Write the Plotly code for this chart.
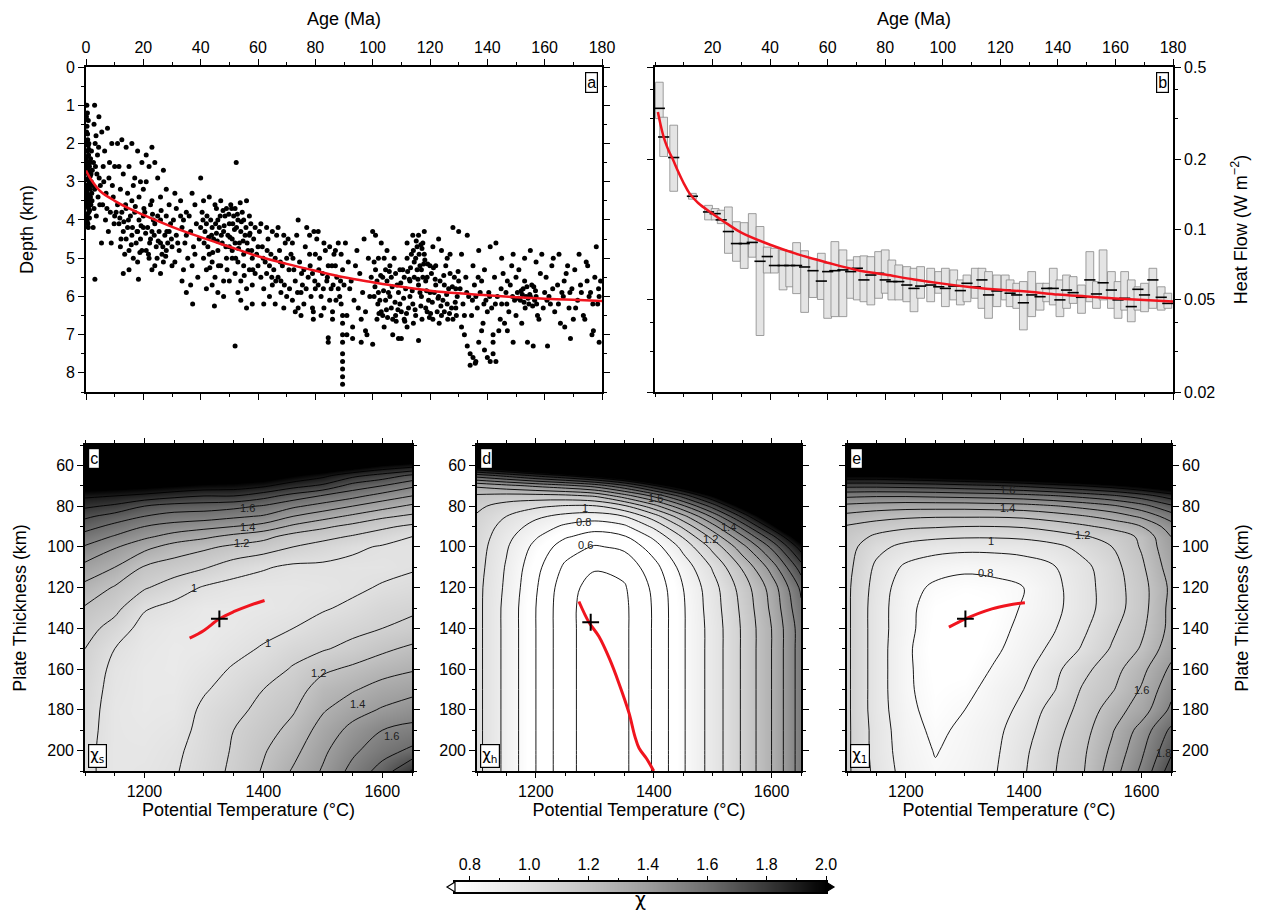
import math
import plotly.graph_objects as go

FONT = "Liberation Sans, Arial, Helvetica, sans-serif"
GREEK = "DejaVu Sans, Liberation Sans, sans-serif"
RED = "#f0141e"

# ---------------- panel a : depth vs age ----------------
seafloor_0_20 = [
    (0.3, 1.0), (0.5, 1.2), (0.8, 1.4), (0.2, 1.7), (0.6, 1.9), (1.0, 2.0), (0.4, 2.2), (0.9, 2.3),
    (0.2, 2.45), (0.7, 2.5), (1.2, 2.6), (0.3, 2.7), (0.8, 2.8), (1.5, 2.85), (0.5, 2.95), (1.1, 3.0),
    (0.2, 3.1), (0.7, 3.15), (1.4, 3.2), (0.4, 3.3), (1.0, 3.35), (0.6, 3.45), (1.3, 3.5), (0.3, 3.6),
    (0.9, 3.7), (0.5, 3.85), (1.2, 3.95), (0.4, 4.05), (0.8, 4.2), (1.6, 2.4), (1.8, 3.0), (2.0, 3.3),
    (1.7, 3.6), (2.2, 2.7), (0.1, 2.0), (0.1, 3.4), (1.9, 2.2), (2.4, 3.1),
    (0.15, 1.3), (0.35, 1.55), (0.55, 1.75), (0.75, 2.05), (0.95, 2.15), (0.25, 2.35), (0.45, 2.55),
    (0.65, 2.65), (0.85, 2.9), (1.05, 3.05), (0.15, 3.25), (0.35, 3.4), (0.55, 3.55), (0.75, 3.65),
    (0.95, 3.8), (1.15, 2.75), (1.35, 3.1), (1.55, 3.4), (1.25, 3.75), (0.65, 4.1), (0.25, 3.95),
    (1.45, 2.5), (1.75, 2.8), (2.1, 3.5), (0.05, 2.6),
    (3.0, 1.0), (2.8, 1.5), (3.5, 1.8), (4.5, 1.3), (3.2, 2.0), (4.0, 2.3), (2.6, 2.5), (3.8, 2.8),
    (4.6, 2.9), (3.0, 3.2), (4.2, 3.4), (2.8, 3.7), (3.6, 3.9), (4.8, 3.6), (5.0, 3.1), (2.5, 4.2),
    (3.3, 2.6), (4.4, 2.1), (3.1, 5.55),
    (5.5, 1.7), (6.5, 2.2), (7.5, 1.6), (9.0, 2.0), (6.0, 2.6), (8.0, 2.9), (7.0, 3.3), (9.5, 3.4),
    (5.8, 3.6), (8.5, 3.8), (6.8, 4.0), (9.8, 4.1), (7.8, 4.3), (5.4, 4.6), (9.2, 3.1), (8.2, 2.5),
    (6.2, 3.0), (7.3, 3.7), (10.0, 2.6), (10.0, 3.9), (8.8, 4.6),
    (11, 2.0), (12.5, 1.9), (14, 2.1), (16, 2.0), (18, 2.2), (19.5, 2.5), (11.5, 2.6), (13, 2.8),
    (15, 2.6), (17, 2.9), (19, 3.0), (12, 3.2), (14.5, 3.3), (16.5, 3.1), (18.5, 3.4), (20, 3.2),
    (11, 3.6), (12.5, 3.8), (14, 3.7), (15.5, 3.9), (17, 3.8), (18.5, 4.0), (20, 3.9), (11.5, 4.1),
    (13, 4.3), (14.5, 4.2), (16, 4.4), (17.5, 4.6), (19, 4.5), (12, 4.7), (13.5, 4.9), (15, 4.8),
    (16.5, 5.0), (18, 5.1), (19.5, 4.8), (14, 4.5), (16, 3.5), (18, 4.3), (20, 4.2), (15, 5.3),
    (18.3, 5.55), (13, 5.4),
    (10.5, 3.8), (11.8, 3.95), (13.2, 4.05), (14.8, 4.0), (16.2, 4.2), (17.8, 4.3), (19.2, 4.15),
    (12.2, 4.5), (15.8, 4.65), (18.8, 4.85), (13.8, 3.6), (17.2, 3.65),
]
seafloor_20_60 = [
    (21, 2.3), (23, 2.1), (22, 2.6), (24, 2.5), (25, 2.9), (27, 2.7), (28, 3.2), (21, 3.0), (26, 3.4),
    (29, 3.6), (23, 3.5), (20.5, 3.8), (21.5, 4.2), (22.5, 4.5), (23.5, 4.0), (24.5, 4.7), (25.5, 4.3),
    (26.5, 4.9), (27.5, 4.4), (28.5, 4.6), (29.5, 4.1), (21, 4.8), (22, 5.0), (23, 4.3), (24, 5.2),
    (25, 3.9), (26, 4.6), (27, 5.1), (28, 4.8), (29, 4.3), (30, 4.7), (22.5, 3.6), (24, 4.1), (26, 4.0),
    (28, 3.9), (30, 5.2), (23, 5.3), (26, 5.4),
    (20.8, 4.35), (22.2, 4.6), (23.8, 4.4), (25.2, 4.55), (26.8, 4.7), (28.2, 4.3), (29.8, 4.5),
    (21.8, 4.9), (24.8, 5.0), (27.8, 4.95), (20.2, 3.7), (23.2, 3.85), (26.2, 3.75),
    (31, 3.3), (33, 3.5), (35, 3.8), (37, 3.3), (40, 2.9), (30.5, 4.0), (31.5, 4.4), (32.5, 4.8),
    (33.5, 4.2), (34.5, 4.6), (35.5, 5.0), (36.5, 4.3), (37.5, 4.7), (38.5, 4.1), (39.5, 4.5), (31, 5.1),
    (32, 4.6), (33, 3.9), (34, 5.3), (35, 4.4), (36, 3.9), (37, 5.2), (38, 4.9), (39, 5.5), (40, 4.2),
    (31.5, 3.7), (33.5, 5.6), (36.5, 5.7), (38, 3.6), (34, 4.0), (35, 5.9), (37.2, 6.2), (44.8, 6.25),
    (40.5, 3.8), (41.5, 4.3), (42.5, 4.7), (43.5, 4.0), (44.5, 4.5), (45.5, 3.7), (46.5, 4.2), (47.5, 4.6),
    (48.5, 3.9), (49.5, 4.4), (41, 5.0), (42, 5.3), (43, 4.9), (44, 5.1), (45, 5.5), (46, 4.8), (47, 5.2),
    (48, 5.6), (49, 5.0), (50, 4.7), (41, 3.5), (43, 3.4), (45, 3.6), (47, 3.5), (49, 3.7), (42, 5.8),
    (44, 5.7), (46, 5.9), (48, 6.0), (50, 5.6), (46, 4.0), (48, 4.3), (44, 4.2), (42, 4.1), (50, 4.1),
    (50.5, 3.6), (51.5, 3.9), (52.5, 4.2), (53.5, 4.6), (54.5, 3.8), (55.5, 4.4), (56.5, 4.8), (57.5, 4.1),
    (58.5, 4.5), (59.5, 4.9), (51, 5.0), (52, 5.4), (53, 5.1), (54, 5.6), (55, 5.2), (56, 5.8), (57, 5.3),
    (58, 5.7), (59, 5.4), (60, 5.2), (51, 4.5), (53, 4.0), (55, 4.9), (57, 4.4), (59, 4.2), (52, 3.7),
    (56, 3.5), (54, 6.1), (58, 6.2), (56, 6.3), (53, 5.9), (55, 4.0), (57, 3.9), (60, 4.7), (52.4, 2.5),
    (52, 7.3), (51, 4.8), (54, 4.3), (58, 5.0),
    (40.8, 4.0), (42.2, 3.9), (43.8, 4.4), (45.2, 4.1), (46.8, 3.9), (48.2, 4.15), (49.8, 3.85),
    (51.2, 4.1), (52.8, 3.85), (54.2, 4.05), (55.8, 4.2), (57.2, 4.35), (41.2, 4.6), (42.8, 4.45),
    (44.2, 4.85), (45.8, 4.55), (47.2, 4.4), (48.8, 4.7), (50.2, 4.45), (51.8, 4.25), (53.2, 4.75),
    (54.8, 4.55), (56.2, 4.6), (57.8, 4.8), (43.2, 5.25), (46.2, 5.2), (49.2, 5.3), (52.2, 5.0),
    (55.2, 5.45), (58.2, 5.3), (47.8, 3.75), (50.8, 3.7), (53.8, 3.55), (45.5, 4.35), (52.0, 4.6),
]
seafloor_60_100 = [
    (60.5, 4.3), (61.5, 4.7), (62.5, 5.1), (63.5, 4.5), (64.5, 4.9), (65.5, 5.3), (66.5, 4.4), (67.5, 4.8),
    (68.5, 5.2), (69.5, 4.6), (61, 5.5), (62, 5.8), (63, 5.4), (64, 6.0), (65, 5.7), (66, 6.2), (67, 5.5),
    (68, 5.9), (69, 6.3), (70, 5.0), (61, 4.1), (63, 4.2), (65, 4.3), (67, 4.2), (69, 4.4), (62, 6.2),
    (64, 5.2), (66, 5.0), (68, 5.6), (70, 6.0),
    (70.5, 4.5), (71.5, 4.9), (72.5, 5.3), (73.5, 4.4), (74.5, 5.1), (75.5, 5.7), (76.5, 4.7), (77.5, 5.5),
    (78.5, 6.0), (79.5, 4.3), (71, 5.8), (72, 6.1), (73, 5.6), (74, 6.3), (75, 5.9), (76, 6.2), (77, 4.2),
    (78, 4.9), (79, 5.4), (80, 5.8), (72, 4.6), (74, 4.0), (76, 5.3), (78, 4.4), (80, 4.9), (73, 6.4),
    (75, 6.5), (79, 6.3),
    (80.5, 4.5), (81.5, 5.0), (82.5, 5.4), (83.5, 4.8), (84.5, 5.2), (85.5, 5.8), (86.5, 4.9), (87.5, 5.5),
    (88.5, 6.0), (89.5, 5.3), (81, 5.7), (82, 6.0), (83, 6.3), (84, 5.6), (85, 6.1), (86, 6.4), (87, 5.2),
    (88, 5.8), (89, 6.2), (90, 5.7), (81, 4.3), (83, 4.6), (85, 4.7), (87, 4.8), (89, 4.9), (82, 6.5),
    (86, 6.6), (88, 4.6), (84.5, 7.08), (84.5, 7.2), (79.3, 6.4), (79.3, 6.6),
    (61.8, 5.0), (63.2, 4.8), (64.8, 5.5), (66.2, 5.6), (67.8, 5.1), (69.2, 5.7), (70.8, 5.3), (72.2, 5.0),
    (73.8, 5.9), (75.2, 5.4), (76.8, 5.8), (78.2, 5.2), (79.8, 5.6), (81.2, 5.3), (82.8, 5.8), (84.2, 5.5),
    (85.8, 5.2), (87.2, 6.1), (88.8, 5.6), (86.2, 5.7),
    (89.5, 6.5), (89.5, 6.7), (89.5, 7.0), (89.5, 7.2), (89.5, 7.5), (89.5, 7.7), (89.5, 7.9), (89.5, 8.1),
    (89.5, 8.3),
    (90.5, 4.6), (91.5, 5.1), (92.5, 5.6), (93.5, 6.1), (94.5, 4.8), (95.5, 5.4), (96.5, 5.9), (97.5, 6.4),
    (98.5, 5.0), (99.5, 5.5), (91, 6.5), (93, 6.8), (95, 6.3), (97, 4.5), (99, 6.0), (92, 5.8), (94, 5.2),
    (96, 6.6), (98, 7.0), (100, 4.3), (91, 7.0), (93, 7.1), (96, 7.2), (100, 7.25), (97.5, 6.9),
]
seafloor_100_140 = [
    (100.5, 5.1), (101.5, 5.6), (102.5, 6.1), (103.5, 6.5), (104.5, 5.3), (105.5, 5.9), (106.5, 6.3),
    (107.5, 5.0), (108.5, 5.7), (109.5, 6.2), (101, 5.3), (102, 5.9), (103, 6.4), (104, 5.0), (105, 5.6),
    (106, 6.0), (107, 6.6), (108, 5.4), (109, 5.9), (110, 6.4), (101, 4.4), (103, 4.6), (105, 4.8),
    (107, 7.0), (109, 7.1), (104, 6.8), (106, 5.2), (108, 6.5), (102, 5.0), (100.5, 6.0), (103.5, 5.5),
    (106.5, 5.5), (109.5, 5.3), (101.5, 6.6), (104.5, 6.1),
    (110.5, 5.3), (111.5, 5.8), (112.5, 6.3), (113.5, 4.9), (114.5, 5.5), (115.5, 4.7), (116.5, 5.2),
    (117.5, 4.6), (118.5, 5.6), (119.5, 6.1), (111, 6.6), (112, 5.0), (113, 5.6), (114, 6.2), (115, 5.0),
    (116, 5.7), (117, 5.3), (118, 4.9), (119, 5.5), (120, 5.9), (111, 5.5), (113, 6.0), (115, 6.5),
    (117, 6.0), (119, 6.4), (112, 4.6), (114, 4.4), (116, 4.4), (118, 4.3), (120, 5.2), (115.5, 5.3),
    (116.5, 5.9), (117.5, 5.5), (114.5, 5.1), (118.5, 6.3), (110, 7.1), (116, 7.15), (112, 6.8),
    (120.5, 5.4), (121.5, 5.9), (122.5, 6.4), (123.5, 5.6), (124.5, 6.1), (125.5, 5.2), (126.5, 5.8),
    (127.5, 6.3), (128.5, 5.5), (129.5, 6.0), (121, 6.6), (122, 5.2), (123, 6.0), (124, 6.5), (125, 5.7),
    (126, 6.2), (127, 5.4), (128, 6.6), (129, 5.8), (130, 5.6), (121, 4.7), (124, 4.8), (127, 4.9),
    (128, 4.2), (130, 4.3), (122, 5.7), (125, 6.4), (129, 6.3), (123, 4.5), (126, 5.0),
    (100.8, 5.75), (101.8, 6.2), (102.8, 5.45), (103.8, 5.85), (104.8, 6.35), (105.8, 5.35), (106.8, 5.75),
    (107.8, 6.15), (108.8, 6.35), (109.8, 5.65), (110.8, 6.05), (111.8, 6.45), (112.8, 5.55), (113.8, 5.85),
    (114.8, 6.35), (115.8, 5.55), (116.8, 6.25), (117.8, 5.15), (118.8, 5.85), (119.8, 6.55), (120.8, 6.15),
    (121.8, 5.55), (122.8, 6.05), (123.8, 6.25), (124.8, 5.45), (125.8, 5.95), (126.8, 6.45), (127.8, 5.75),
    (128.8, 6.15), (129.8, 5.35), (114.2, 4.8), (115.2, 4.55), (116.2, 4.9), (117.2, 4.75), (118.2, 5.05),
    (116.8, 4.65), (119.2, 5.15), (113.2, 5.25), (112.2, 5.35), (121.2, 5.25), (102.2, 6.45), (105.2, 6.55),
    (108.2, 6.65), (111.2, 6.65), (114.2, 6.7), (117.2, 6.6), (120.2, 6.45), (123.2, 6.7), (126.2, 6.6),
    (129.2, 6.5),
    (130.5, 5.8), (131.5, 6.2), (132.5, 5.5), (133.5, 6.0), (134.5, 6.5), (135.5, 5.7), (136.5, 6.3),
    (137.5, 5.9), (138.5, 6.7), (139.5, 6.1), (131, 6.8), (132, 7.0), (133, 7.3), (134, 7.5), (135, 7.6),
    (136, 7.7), (137, 7.2), (138, 6.9), (139, 7.4), (140, 7.6), (131, 4.9), (133, 4.4), (135, 5.2),
    (137, 4.8), (139, 5.3), (134, 7.8), (136, 6.0), (138, 5.6), (140, 6.4), (132, 6.5),
    (132.8, 5.9), (134.8, 6.1), (136.8, 5.5), (138.8, 6.2), (135.8, 7.75),
]
seafloor_140_180 = [
    (141, 7.7), (142, 7.5), (143, 7.7), (142, 7.2),
    (140.5, 5.9), (141.5, 6.3), (142.5, 5.5), (143.5, 6.0), (144.5, 6.6), (145.5, 5.4), (146.5, 5.9),
    (147.5, 6.4), (148.5, 5.2), (149.5, 6.1), (141, 4.7), (143, 4.6), (145, 5.0), (147, 6.9), (149, 7.2),
    (142, 7.0), (144, 6.9), (146, 6.7), (148, 5.7), (150, 5.5), (145, 6.2), (147, 5.6), (149, 4.9),
    (150, 6.5), (140.8, 6.0), (142.8, 6.2), (144.8, 5.8), (146.8, 6.2), (148.8, 6.0),
    (150.5, 5.9), (151.5, 6.1), (152.5, 5.8), (153.5, 6.0), (154.5, 6.2), (155.5, 5.7), (156.5, 6.1),
    (157.5, 6.5), (158.5, 5.4), (159.5, 6.3), (151, 5.3), (153, 5.0), (155, 4.8), (157, 5.1), (159, 4.9),
    (152, 6.7), (154, 7.2), (156, 7.3), (158, 6.6), (160, 5.9), (153, 5.6), (155, 6.0), (157, 6.0),
    (150.8, 6.05), (151.8, 5.85), (152.8, 6.15), (153.8, 5.75), (154.8, 5.95), (155.8, 6.25), (156.8, 5.85),
    (152.2, 5.95), (154.2, 6.05), (156.2, 5.75), (153.2, 6.3), (157.2, 6.2),
    (160.5, 5.5), (161.5, 6.0), (162.5, 5.2), (163.5, 6.4), (164.5, 5.7), (165.5, 6.7), (166.5, 6.0),
    (167.5, 5.4), (168.5, 6.3), (169.5, 5.8), (161, 7.3), (163, 5.0), (165, 4.9), (167, 6.8), (169, 7.1),
    (162, 6.2), (166, 5.9), (168, 5.2), (170, 6.6), (160.8, 6.1), (162.8, 5.8), (164.8, 6.2), (166.8, 5.6),
    (168.8, 5.9),
    (170.5, 5.3), (171.5, 6.1), (172.5, 5.7), (173.5, 6.5), (174.5, 5.1), (175.5, 6.0), (176.5, 7.0),
    (177.5, 5.5), (178.5, 6.2), (179.5, 5.6), (172, 4.9), (174, 6.6), (176, 5.9), (178, 4.7), (179, 6.0),
    (179, 7.2), (177, 6.9), (175, 5.2), (170.8, 6.3), (172.8, 5.9), (174.8, 5.6), (176.8, 6.2), (178.8, 5.8),
]
depth_model_age = [0, 1, 2, 5, 10, 15, 20, 30, 40, 50, 60, 70, 80, 90, 100, 110, 120, 130, 140, 150, 160, 170, 180]
depth_model_km = [2.71, 2.85, 2.97, 3.25, 3.5, 3.7, 3.87, 4.18, 4.45, 4.7, 4.95, 5.15, 5.33, 5.5, 5.63, 5.75,
                  5.85, 5.92, 5.97, 6.02, 6.06, 6.09, 6.12]

# ---------------- panel b : heat flow ----------------
box_age = [1.5, 3.0, 6.5, 13.0, 18.6, 20.9, 23.0, 25.5, 28.3, 31.0, 33.8, 36.5, 39.0, 41.5, 44.5, 46.8, 49.2,
           52.0, 54.9, 57.8, 60.0, 62.5, 65.3, 68.0, 70.3, 72.6, 75.0, 77.7, 80.0, 82.3, 84.7, 87.5, 90.0, 92.3,
           95.8, 98.6, 100.9, 103.8, 106.1, 108.4, 111.3, 113.6, 115.9, 118.8, 121.7, 123.4, 125.7, 128.0,
           130.9, 133.8, 136.1, 138.4, 140.7, 143.0, 145.3, 148.2, 151.1, 153.4, 155.7, 158.6, 160.9, 163.2,
           165.5, 167.8, 170.1, 173.0, 175.9, 178.2]
box_q3 = [0.43, 0.304, 0.281, 0.143, 0.127, 0.123, 0.121, 0.125, 0.108, 0.107, 0.117, 0.103, 0.084, 0.083,
          0.0817, 0.081, 0.0878, 0.081, 0.075, 0.079, 0.0715, 0.0887, 0.0817, 0.0739, 0.0764, 0.077, 0.0764,
          0.0803, 0.0817, 0.0739, 0.0704, 0.0692, 0.0681, 0.0692, 0.0681, 0.0659, 0.0681, 0.067, 0.0607, 0.0637,
          0.0681, 0.0681, 0.0659, 0.0637, 0.0637, 0.0607, 0.0587, 0.0597, 0.0659, 0.0587, 0.0587, 0.0681,
          0.0607, 0.0637, 0.0627, 0.0577, 0.0803, 0.0597, 0.0817, 0.0659, 0.0597, 0.0659, 0.0607, 0.0567,
          0.0587, 0.0681, 0.0567, 0.0532]
box_q1 = [0.30, 0.206, 0.146, 0.135, 0.110, 0.110, 0.106, 0.079, 0.073, 0.068, 0.076, 0.035, 0.065, 0.065,
          0.055, 0.0567, 0.053, 0.044, 0.051, 0.050, 0.0415, 0.0422, 0.0422, 0.0506, 0.0498, 0.0489, 0.0474,
          0.0506, 0.0532, 0.0498, 0.0498, 0.0489, 0.0443, 0.0506, 0.0489, 0.0532, 0.0466, 0.0498, 0.0474,
          0.0489, 0.0506, 0.0458, 0.0415, 0.0466, 0.0498, 0.0466, 0.0458, 0.037, 0.0422, 0.045, 0.0489, 0.0474,
          0.0422, 0.0458, 0.0481, 0.0436, 0.0489, 0.0458, 0.0498, 0.0458, 0.0415, 0.045, 0.0401, 0.045, 0.0443,
          0.0458, 0.045, 0.0458]
box_median = [0.332, 0.25, 0.204, 0.139, 0.119, 0.117, 0.110, 0.098, 0.087, 0.087, 0.088, 0.073, 0.0765, 0.070,
              0.070, 0.070, 0.070, 0.069, 0.0665, 0.060, 0.0659, 0.0665, 0.067, 0.0659, 0.0681, 0.0607, 0.0637,
              0.0648, 0.0607, 0.0597, 0.0597, 0.0577, 0.0558, 0.0571, 0.0577, 0.0567, 0.0558, 0.0571, 0.0546,
              0.0587, 0.0567, 0.0607, 0.0523, 0.0544, 0.0549, 0.0532, 0.0523, 0.0484, 0.0523, 0.0514, 0.0558,
              0.0558, 0.0498, 0.0549, 0.0535, 0.0511, 0.0607, 0.0528, 0.059, 0.0549, 0.0498, 0.0506, 0.0466,
              0.0553, 0.0523, 0.0607, 0.0511, 0.0481]
hf_model_age = [1, 2, 3, 4, 5, 6, 8, 10, 12, 15, 20, 25, 30, 40, 50, 60, 70, 80, 90, 100, 110, 120, 130, 140,
                150, 160, 170, 180]
hf_model = [0.32, 0.28, 0.25, 0.23, 0.215, 0.203, 0.178, 0.158, 0.143, 0.13, 0.117, 0.106, 0.097, 0.086, 0.078,
            0.072, 0.067, 0.064, 0.061, 0.0585, 0.0565, 0.055, 0.054, 0.0525, 0.0515, 0.0505, 0.0497, 0.049]

# ---------------- panels c, d, e : misfit grids ----------------
temp_grid = [1100, 1150, 1200, 1250, 1300, 1350, 1400, 1450, 1500, 1550, 1600, 1650]
thick_grid = [50, 55, 60, 65, 70, 75, 80, 85, 90, 95, 100, 110, 120, 130, 140, 150, 160, 170, 180, 190, 200, 210]

chi_s = [
    [3.0, 2.9, 2.9, 2.85, 2.8, 2.75, 2.7, 2.65, 2.6, 2.55, 2.5, 2.45],
    [2.8, 2.65, 2.6, 2.6, 2.55, 2.5, 2.45, 2.38, 2.36, 2.3, 2.25, 2.2],
    [2.55, 2.4, 2.35, 2.35, 2.3, 2.28, 2.25, 2.18, 2.14, 2.08, 2.0, 1.95],
    [2.3, 2.2, 2.15, 2.15, 2.12, 2.1, 2.08, 2.0, 1.93, 1.83, 1.76, 1.68],
    [2.07, 2.05, 2.03, 2.0, 1.97, 1.96, 1.92, 1.84, 1.78, 1.66, 1.6, 1.52],
    [1.92, 1.9, 1.87, 1.83, 1.8, 1.8, 1.74, 1.66, 1.59, 1.53, 1.46, 1.40],
    [1.82, 1.78, 1.70, 1.66, 1.65, 1.63, 1.59, 1.52, 1.46, 1.40, 1.34, 1.28],
    [1.72, 1.66, 1.60, 1.56, 1.55, 1.52, 1.49, 1.40, 1.34, 1.28, 1.22, 1.18],
    [1.64, 1.57, 1.50, 1.46, 1.43, 1.40, 1.36, 1.28, 1.22, 1.17, 1.12, 1.08],
    [1.56, 1.49, 1.42, 1.36, 1.32, 1.27, 1.23, 1.16, 1.13, 1.09, 1.05, 1.0],
    [1.49, 1.41, 1.33, 1.26, 1.22, 1.18, 1.15, 1.10, 1.06, 1.02, 0.99, 0.98],
    [1.37, 1.30, 1.19, 1.15, 1.11, 1.05, 1.01, 0.98, 0.98, 0.97, 0.97, 0.99],
    [1.27, 1.19, 1.11, 1.05, 0.99, 0.96, 0.95, 0.95, 0.96, 0.98, 1.01, 1.03],
    [1.19, 1.13, 1.01, 0.97, 0.93, 0.93, 0.94, 0.96, 0.99, 1.02, 1.06, 1.08],
    [1.14, 1.06, 0.96, 0.93, 0.92, 0.94, 0.97, 1.0, 1.04, 1.07, 1.1, 1.13],
    [1.10, 1.0, 0.94, 0.92, 0.93, 0.97, 1.01, 1.06, 1.09, 1.13, 1.18, 1.22],
    [1.08, 0.97, 0.93, 0.92, 0.96, 1.01, 1.05, 1.11, 1.18, 1.22, 1.26, 1.29],
    [1.06, 0.96, 0.93, 0.93, 0.99, 1.04, 1.10, 1.15, 1.25, 1.29, 1.34, 1.37],
    [1.05, 0.95, 0.93, 0.94, 1.02, 1.07, 1.13, 1.19, 1.29, 1.36, 1.41, 1.45],
    [1.04, 0.95, 0.94, 0.96, 1.03, 1.10, 1.16, 1.23, 1.34, 1.43, 1.5, 1.53],
    [1.03, 0.95, 0.95, 0.98, 1.04, 1.11, 1.19, 1.27, 1.38, 1.48, 1.56, 1.62],
    [1.03, 0.95, 0.96, 0.99, 1.05, 1.12, 1.21, 1.31, 1.41, 1.53, 1.64, 1.81],
]

chi_h = [
    [3.0, 3.1, 3.2, 3.3, 3.4, 3.5, 3.6, 3.75, 3.9, 4.0, 4.1, 4.2],
    [2.6, 2.7, 2.8, 2.9, 3.0, 3.1, 3.25, 3.4, 3.55, 3.7, 3.85, 3.95],
    [2.1, 2.2, 2.3, 2.4, 2.5, 2.6, 2.75, 2.95, 3.15, 3.35, 3.5, 3.65],
    [1.65, 1.73, 1.82, 1.90, 2.0, 2.12, 2.28, 2.48, 2.7, 2.95, 3.15, 3.35],
    [1.32, 1.37, 1.42, 1.47, 1.54, 1.68, 1.88, 2.08, 2.32, 2.6, 2.85, 3.1],
    [1.18, 1.16, 1.16, 1.17, 1.21, 1.35, 1.52, 1.74, 2.0, 2.3, 2.6, 2.9],
    [1.12, 1.06, 1.02, 0.99, 0.99, 1.08, 1.26, 1.48, 1.74, 2.05, 2.4, 2.7],
    [1.09, 1.00, 0.92, 0.87, 0.85, 0.90, 1.05, 1.27, 1.52, 1.82, 2.15, 2.5],
    [1.07, 0.96, 0.86, 0.78, 0.74, 0.78, 0.92, 1.12, 1.36, 1.63, 1.95, 2.3],
    [1.06, 0.93, 0.81, 0.71, 0.66, 0.69, 0.82, 1.01, 1.23, 1.48, 1.76, 2.1],
    [1.05, 0.91, 0.77, 0.65, 0.59, 0.62, 0.75, 0.93, 1.13, 1.36, 1.62, 1.95],
    [1.04, 0.89, 0.73, 0.58, 0.51, 0.53, 0.66, 0.84, 1.01, 1.21, 1.44, 1.75],
    [1.03, 0.88, 0.71, 0.54, 0.46, 0.49, 0.62, 0.80, 0.96, 1.14, 1.34, 1.62],
    [1.03, 0.87, 0.70, 0.53, 0.45, 0.48, 0.61, 0.79, 0.95, 1.12, 1.32, 1.58],
    [1.03, 0.87, 0.70, 0.53, 0.45, 0.48, 0.61, 0.79, 0.94, 1.11, 1.30, 1.55],
    [1.03, 0.87, 0.70, 0.53, 0.45, 0.48, 0.61, 0.79, 0.94, 1.11, 1.30, 1.55],
    [1.03, 0.87, 0.70, 0.53, 0.45, 0.48, 0.61, 0.79, 0.94, 1.11, 1.30, 1.55],
    [1.03, 0.87, 0.70, 0.53, 0.45, 0.48, 0.61, 0.79, 0.94, 1.11, 1.30, 1.55],
    [1.03, 0.87, 0.70, 0.53, 0.45, 0.48, 0.61, 0.79, 0.94, 1.11, 1.30, 1.55],
    [1.03, 0.87, 0.70, 0.53, 0.45, 0.48, 0.61, 0.79, 0.94, 1.11, 1.30, 1.55],
    [1.03, 0.87, 0.70, 0.53, 0.45, 0.48, 0.61, 0.79, 0.94, 1.11, 1.30, 1.55],
    [1.03, 0.87, 0.70, 0.53, 0.45, 0.48, 0.61, 0.79, 0.94, 1.11, 1.30, 1.55],
]

chi_1 = [
    [3.1, 3.15, 3.2, 3.25, 3.3, 3.35, 3.4, 3.45, 3.5, 3.55, 3.6, 3.65],
    [2.75, 2.78, 2.8, 2.83, 2.86, 2.9, 2.94, 2.98, 3.02, 3.06, 3.1, 3.15],
    [2.35, 2.37, 2.4, 2.43, 2.46, 2.5, 2.54, 2.58, 2.62, 2.67, 2.72, 2.78],
    [2.0, 2.0, 2.02, 2.05, 2.08, 2.1, 2.14, 2.18, 2.22, 2.27, 2.33, 2.4],
    [1.73, 1.73, 1.74, 1.75, 1.77, 1.79, 1.82, 1.86, 1.9, 1.95, 2.02, 2.1],
    [1.52, 1.51, 1.51, 1.52, 1.53, 1.54, 1.56, 1.59, 1.63, 1.68, 1.75, 1.85],
    [1.37, 1.35, 1.34, 1.34, 1.34, 1.35, 1.36, 1.39, 1.43, 1.48, 1.56, 1.68],
    [1.27, 1.24, 1.22, 1.21, 1.21, 1.21, 1.22, 1.25, 1.29, 1.34, 1.42, 1.55],
    [1.19, 1.15, 1.12, 1.11, 1.10, 1.10, 1.11, 1.14, 1.18, 1.23, 1.30, 1.45],
    [1.16, 1.08, 1.04, 1.02, 1.01, 1.01, 1.02, 1.05, 1.09, 1.13, 1.22, 1.40],
    [1.14, 1.03, 0.97, 0.94, 0.93, 0.93, 0.94, 0.97, 1.03, 1.10, 1.21, 1.38],
    [1.13, 0.98, 0.88, 0.84, 0.82, 0.83, 0.85, 0.89, 0.97, 1.06, 1.18, 1.35],
    [1.12, 0.96, 0.84, 0.78, 0.76, 0.77, 0.80, 0.87, 0.96, 1.05, 1.16, 1.32],
    [1.12, 0.95, 0.83, 0.75, 0.73, 0.75, 0.81, 0.87, 0.96, 1.05, 1.16, 1.33],
    [1.12, 0.95, 0.83, 0.74, 0.72, 0.76, 0.83, 0.89, 0.98, 1.08, 1.18, 1.33],
    [1.12, 0.95, 0.82, 0.73, 0.72, 0.78, 0.85, 0.92, 1.01, 1.11, 1.21, 1.36],
    [1.12, 0.95, 0.82, 0.74, 0.74, 0.81, 0.87, 0.97, 1.07, 1.16, 1.27, 1.42],
    [1.12, 0.95, 0.82, 0.75, 0.77, 0.84, 0.90, 0.99, 1.11, 1.19, 1.31, 1.47],
    [1.12, 0.95, 0.83, 0.76, 0.80, 0.85, 0.93, 1.04, 1.13, 1.25, 1.35, 1.52],
    [1.12, 0.96, 0.84, 0.78, 0.82, 0.87, 0.96, 1.06, 1.16, 1.29, 1.44, 1.62],
    [1.12, 0.96, 0.85, 0.795, 0.83, 0.88, 0.98, 1.08, 1.18, 1.32, 1.48, 1.68],
    [1.12, 0.97, 0.86, 0.81, 0.84, 0.89, 0.99, 1.09, 1.19, 1.35, 1.52, 1.75],
]

# best-fit trade-off curves and best-fit points (temperature, thickness)
tradeoff_s_T = [1276, 1300, 1326, 1351, 1376, 1402]
tradeoff_s_z = [144.8, 141.0, 135.3, 131.7, 128.8, 126.3]
tradeoff_h_T = [1273, 1290, 1307, 1325, 1341, 1358, 1368, 1375, 1388, 1400]
tradeoff_h_z = [126.8, 137.0, 144.0, 155.0, 167.0, 181.5, 193.0, 198.7, 204.0, 210.0]
tradeoff_1_T = [1273, 1301, 1346, 1375, 1402]
tradeoff_1_z = [139.4, 135.3, 130.4, 128.5, 127.4]
best_T = [1326, 1293, 1301]
best_z = [135.3, 137.0, 135.3]

contour_labels_c = [(1284, 120, "1"), (1407, 147, "1"), (1363, 98, "1.2"), (1374, 90, "1.4"),
                    (1374, 81, "1.6"), (1492, 162, "1.2"), (1559, 177, "1.4"), (1615, 193, "1.6")]
contour_labels_d = [(1283, 81, "1"), (1280, 88, "0.8"), (1285, 99, "0.6"), (1403, 76, "1.6"),
                    (1496, 96, "1.2"), (1527, 90, "1.4")]
contour_labels_e = [(1335, 113, "0.8"), (1345, 97, "1"), (1499, 94, "1.2"), (1372, 81, "1.4"),
                    (1372, 72, "1.6"), (1600, 170, "1.6"), (1637, 201, "1.8")]

cbar_vals = [0.75, 0.8, 1.0, 1.2, 1.4, 1.6, 1.8, 2.0]
cbar_ticks = [0.8, 1.0, 1.2, 1.4, 1.6, 1.8, 2.0]

# ---------------- layout helpers (page pixels -> paper fractions) ----------------
FIG_W, FIG_H, PAGE_OFF = 1260, 916, 8


def fx(px):
    return (px - PAGE_OFF) / FIG_W


def fy(py):
    return 1 - (py - PAGE_OFF) / FIG_H


GRAY = [[0.0, "#ffffff"], [0.2, "#e0e0e0"], [0.36, "#c2c2c2"], [0.52, "#9c9c9c"],
        [0.68, "#6e6e6e"], [0.84, "#383838"], [1.0, "#000000"]]

fig = go.Figure()

all_pts = seafloor_0_20 + seafloor_20_60 + seafloor_60_100 + seafloor_100_140 + seafloor_140_180
fig.add_trace(go.Scatter(x=[p[0] for p in all_pts], y=[p[1] for p in all_pts], mode="markers",
                         marker=dict(color="black", size=5, line=dict(width=0)),
                         xaxis="x", yaxis="y", hoverinfo="skip", showlegend=False))
fig.add_trace(go.Scatter(x=depth_model_age, y=depth_model_km, mode="lines",
                         line=dict(color=RED, width=2.5, shape="spline"), xaxis="x", yaxis="y", showlegend=False))

fig.add_trace(go.Bar(x=box_age, y=[t - b for t, b in zip(box_q3, box_q1)], base=box_q1, width=2.7,
                     marker=dict(color="#e4e4e4", line=dict(color="#888888", width=0.8)),
                     xaxis="x2", yaxis="y2", showlegend=False, hoverinfo="skip"))
fig.add_trace(go.Scatter(x=box_age, y=box_median, mode="markers",
                         marker=dict(symbol="line-ew", size=8, line=dict(color="black", width=1.6)),
                         xaxis="x2", yaxis="y2", showlegend=False, hoverinfo="skip"))
fig.add_trace(go.Scatter(x=hf_model_age, y=hf_model, mode="lines",
                         line=dict(color=RED, width=2.5, shape="spline"), xaxis="x2", yaxis="y2", showlegend=False))

panels = [(chi_s, "x3", "y3", tradeoff_s_T, tradeoff_s_z),
          (chi_h, "x4", "y4", tradeoff_h_T, tradeoff_h_z),
          (chi_1, "x5", "y5", tradeoff_1_T, tradeoff_1_z)]
for i, (chi, xa, ya, tT, tz) in enumerate(panels):
    fig.add_trace(go.Heatmap(x=temp_grid, y=thick_grid, z=chi, zmin=0.75, zmax=2.0, colorscale=GRAY,
                             zsmooth="best", showscale=False, xaxis=xa, yaxis=ya, hoverinfo="skip"))
    fig.add_trace(go.Contour(x=temp_grid, y=thick_grid, z=chi, showscale=False,
                             contours=dict(start=0.5, end=4.0, size=0.1, coloring="none"),
                             line=dict(color="black", width=0.9, smoothing=1.0),
                             xaxis=xa, yaxis=ya, hoverinfo="skip", showlegend=False))
    fig.add_trace(go.Scatter(x=tT, y=tz, mode="lines", line=dict(color=RED, width=3, shape="spline"),
                             xaxis=xa, yaxis=ya, showlegend=False, hoverinfo="skip"))
    fig.add_trace(go.Scatter(x=[best_T[i]], y=[best_z[i]], mode="markers",
                             marker=dict(symbol="cross-thin", size=12, line=dict(color="black", width=2)),
                             xaxis=xa, yaxis=ya, showlegend=False, hoverinfo="skip"))

fig.add_trace(go.Heatmap(x=cbar_vals, y=[0], z=[cbar_vals], zmin=0.75, zmax=2.0, colorscale=GRAY,
                         zsmooth="best", showscale=False, xaxis="x6", yaxis="y6", hoverinfo="skip"))


def ax(**kw):
    d = dict(showline=True, linecolor="black", linewidth=1.7, mirror="ticks", ticks="outside", ticklen=6,
             tickwidth=1.2, tickcolor="black", showgrid=False, zeroline=False, automargin=False,
             tickfont=dict(family=FONT, size=16, color="black"),
             title_font=dict(family=FONT, size=18, color="black"))
    d.update(kw)
    return d


minor_age = dict(dtick=10, ticks="outside", ticklen=3, tickcolor="black")
top_y = [fy(392), fy(67)]
bot_y = [fy(771), fy(445)]

fig.update_layout(
    width=FIG_W, height=FIG_H, margin=dict(l=0, r=0, t=0, b=0, autoexpand=False),
    paper_bgcolor="white", plot_bgcolor="white", barmode="overlay",
    font=dict(family=FONT, color="black"),
    xaxis=ax(domain=[fx(86), fx(602)], anchor="y", side="top", range=[0, 180],
             tickvals=[0, 20, 40, 60, 80, 100, 120, 140, 160, 180], minor=minor_age,
             title=dict(text="Age (Ma)", standoff=8)),
    yaxis=ax(domain=top_y, anchor="x", range=[8.5, 0], tickvals=[0, 1, 2, 3, 4, 5, 6, 7, 8],
             minor=dict(dtick=0.5, ticks="outside", ticklen=3, tickcolor="black"),
             title=dict(text="Depth (km)", standoff=28)),
    xaxis2=ax(domain=[fx(655), fx(1173)], anchor="y2", side="top", range=[0, 180],
              tickvals=[20, 40, 60, 80, 100, 120, 140, 160, 180], minor=minor_age,
              title=dict(text="Age (Ma)", standoff=8)),
    yaxis2=ax(domain=top_y, anchor="x2", side="right", type="log",
              range=[math.log10(0.02), math.log10(0.5)],
              tickvals=[0.02, 0.05, 0.1, 0.2, 0.5], ticktext=["0.02", "0.05", "0.1", "0.2", "0.5"],
              minor=dict(tickvals=[0.03, 0.04, 0.3, 0.4], ticks="outside", ticklen=3, tickcolor="black"),
              title=dict(text="Heat Flow (W m<sup>−2</sup>)", standoff=20)),
    xaxis6=dict(domain=[fx(455), fx(826)], anchor="y6", side="top", range=[0.75, 2.0],
                tickvals=cbar_ticks, ticktext=["%.1f" % v for v in cbar_ticks], ticks="outside", ticklen=4,
                tickcolor="black", minor=dict(dtick=0.1, ticks="outside", ticklen=2, tickcolor="black"),
                showline=True, linecolor="black", linewidth=1.5, mirror=True, showgrid=False, zeroline=False,
                automargin=False, tickfont=dict(family=FONT, size=16, color="black")),
    yaxis6=dict(domain=[fy(892), fy(882)], anchor="x6", range=[-0.5, 0.5], showticklabels=False,
                ticks="", showline=True, linecolor="black", linewidth=1.5, mirror=True, showgrid=False,
                zeroline=False, automargin=False),
)

bottom_x = {3: [fx(85), fx(412)], 4: [fx(477), fx(801)], 5: [fx(847), fx(1171)]}
for n in [3, 4, 5]:
    fig.layout["xaxis%d" % n] = ax(domain=bottom_x[n], anchor="y%d" % n, range=[1100, 1650],
                                   tickvals=[1200, 1400, 1600], ticklen=5,
                                   minor=dict(dtick=50, ticks="outside", ticklen=3, tickcolor="black"),
                                   title=dict(text="Potential Temperature (°C)", standoff=0))
    yk = dict(domain=bot_y, anchor="x%d" % n, range=[210, 50], tickvals=[60, 80, 100, 120, 140, 160, 180, 200],
              minor=dict(dtick=10, ticks="outside", ticklen=3, tickcolor="black"))
    if n == 3:
        yk["title"] = dict(text="Plate Thickness (km)", standoff=16)
    if n == 5:
        yk["side"] = "right"
        yk["title"] = dict(text="Plate Thickness (km)", standoff=28)
    fig.layout["yaxis%d" % n] = ax(**yk)

ann = []
box_style = dict(showarrow=False, bordercolor="black", borderwidth=1.2, bgcolor="white", borderpad=1)
ann.append(dict(text="a", xref="x domain", yref="y domain", x=0.993, y=0.985, xanchor="right", yanchor="top",
                font=dict(family=FONT, size=16, color="black"), **box_style))
ann.append(dict(text="b", xref="x2 domain", yref="y2 domain", x=0.993, y=0.985, xanchor="right",
                yanchor="top", font=dict(family=FONT, size=16, color="black"), **box_style))
for n, letter, sub in [(3, "c", "s"), (4, "d", "h"), (5, "e", "1")]:
    ann.append(dict(text=letter, xref="x%d domain" % n, yref="y%d domain" % n, x=0.008, y=0.99,
                    xanchor="left", yanchor="top", font=dict(family=FONT, size=16, color="black"), **box_style))
    ann.append(dict(text="χ<sub>%s</sub>" % sub, xref="x%d domain" % n, yref="y%d domain" % n, x=0.008,
                    y=0.01, xanchor="left", yanchor="bottom", font=dict(family=GREEK, size=15, color="black"),
                    **box_style))
for n, labels in [(3, contour_labels_c), (4, contour_labels_d), (5, contour_labels_e)]:
    for (t, z, s) in labels:
        ann.append(dict(text=s, x=t, y=z, xref="x%d" % n, yref="y%d" % n, showarrow=False,
                        font=dict(family=FONT, size=11, color="#202020")))
ann.append(dict(text="χ", xref="paper", yref="paper", x=fx(640), y=fy(912), showarrow=False,
                font=dict(family=GREEK, size=19, color="black")))
fig.update_layout(annotations=ann)

# colour-bar end triangles
yl, yh, ym = fy(892), fy(882), fy(887)
x0, x1 = fx(455), fx(826)
fig.update_layout(shapes=[
    dict(type="path", xref="paper", yref="paper",
         path="M %f,%f L %f,%f L %f,%f Z" % (x0, yh, fx(447), ym, x0, yl),
         fillcolor="white", line=dict(color="black", width=1.2)),
    dict(type="path", xref="paper", yref="paper",
         path="M %f,%f L %f,%f L %f,%f Z" % (x1, yh, fx(834), ym, x1, yl),
         fillcolor="black", line=dict(color="black", width=1.2)),
])

fig.write_html("out.html")
